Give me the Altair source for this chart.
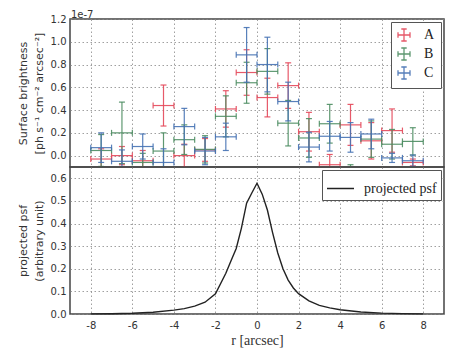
import altair as alt
import pandas as pd

# ---------------- data (surface brightness in units of 1e-7) ----------------
r_centers = [-7.5, -6.5, -5.5, -4.5, -3.5, -2.5, -1.5, -0.5,
             0.5, 1.5, 2.5, 3.5, 4.5, 5.5, 6.5, 7.5]
r_halfwidth = 0.5

series_names = ["A", "B", "C"]
series_colors = ["#e4485a", "#4d8d62", "#4672b4"]

a_vals = [-0.03, 0.00, -0.045, 0.44, 0.00, 0.05, 0.41, 0.73,
          0.51, 0.615, 0.21, -0.08, 0.27, 0.13, 0.22, -0.06]
a_errs = [0.09, 0.08, 0.09, 0.18, 0.10, 0.10, 0.16, 0.20,
          0.17, 0.20, 0.17, 0.09, 0.18, 0.16, 0.19, 0.03]

b_vals = [0.045, 0.20, -0.06, 0.04, 0.14, 0.055, 0.345, 0.64,
          0.74, 0.285, 0.155, 0.28, -0.20, 0.145, 0.10, 0.125]
b_errs = [0.14, 0.27, 0.08, 0.16, 0.13, 0.12, 0.18, 0.18,
          0.20, 0.20, 0.17, 0.17, 0.12, 0.16, 0.13, 0.12]

c_vals = [0.07, -0.05, 0.08, -0.06, 0.255, 0.04, 0.165, 0.885,
          0.80, 0.475, 0.075, 0.17, 0.16, 0.19, -0.02, -0.045]
c_errs = [0.13, 0.10, 0.11, 0.12, 0.16, 0.12, 0.12, 0.24,
          0.24, 0.17, 0.13, 0.13, 0.13, 0.13, 0.04, 0.05]

psf_r = [-8, -7, -6, -5, -4, -3.5, -3, -2.5, -2, -1.5, -1.25, -1, -0.75,
         -0.5, -0.25, 0, 0.25, 0.5, 0.75, 1, 1.25, 1.5, 1.75, 2, 2.5, 3,
         3.5, 4, 5, 6, 7, 8]
psf_val = [0.0005, 0.001, 0.003, 0.008, 0.017, 0.024, 0.035, 0.052, 0.089,
           0.18, 0.235, 0.29, 0.38, 0.49, 0.535, 0.578, 0.53, 0.46, 0.36,
           0.27, 0.20, 0.15, 0.115, 0.09, 0.058, 0.038, 0.027, 0.019, 0.009,
           0.004, 0.0015, 0.0005]
psf_label = "projected psf"

x_ticks = [-8, -6, -4, -2, 0, 2, 4, 6, 8]
top_ticks = [0.0, 0.2, 0.4, 0.6, 0.8, 1.0, 1.2]
bottom_ticks = [0.0, 0.1, 0.2, 0.3, 0.4, 0.5, 0.6]
offset_text = ["1e-7"]

# ---------------- tables ----------------
rows = []
for name, vals, errs in zip(series_names, [a_vals, b_vals, c_vals], [a_errs, b_errs, c_errs]):
    for r, v, e in zip(r_centers, vals, errs):
        rows.append({"series": name, "r": r, "val": v, "lo": v - e, "hi": v + e,
                     "rlo": r - r_halfwidth, "rhi": r + r_halfwidth})
df = pd.DataFrame(rows)
psf_df = pd.DataFrame({"r": psf_r, "psf": psf_val, "label": psf_label})

# ---------------- scales / axes ----------------
xs = alt.Scale(domain=[-9, 9], nice=False, zero=False)
ys_top = alt.Scale(domain=[-0.1, 1.2], nice=False, zero=False)
ys_bot = alt.Scale(domain=[0, 0.65], nice=False, zero=False)

top_xaxis = alt.Axis(values=x_ticks, labels=False, title=None,
                     minExtent=0, maxExtent=0, labelPadding=0)
top_yaxis = alt.Axis(values=top_ticks, format=".1f", labelPadding=4,
                     minExtent=22, maxExtent=22, titlePadding=4,
                     title=["Surface brightness", "[ph s\u207b\u00b9 cm\u207b\u00b2 arcsec\u207b\u00b2]"],
                     titleLineHeight=16)
bot_xaxis = alt.Axis(values=x_ticks, labelExpr="datum.value + ''", labelPadding=6,
                     title="r [arcsec]", titleFont="Liberation Serif", titleFontSize=14,
                     titlePadding=3)
bot_yaxis = alt.Axis(values=bottom_ticks, format=".1f", labelPadding=4,
                     minExtent=22, maxExtent=22, titlePadding=4,
                     title=["projected psf", "(arbitrary unit)"], titleLineHeight=16)

cross_path = ("M-1,0H1M-1,-0.45V0.45M1,-0.45V0.45"
              "M0,-1V1M-0.45,-1H0.45M-0.45,1H0.45")

top_legend = alt.Legend(title=None, orient="top-right", offset=3,
                        symbolType=cross_path, symbolSize=144, symbolStrokeWidth=1.3,
                        symbolFillColor="transparent",
                        labelFont="Liberation Serif", labelFontSize=14, labelColor="#222",
                        labelOffset=13, padding=6, rowPadding=1,
                        strokeColor="#555", fillColor="white", cornerRadius=0)

color_top = alt.Color("series:N", scale=alt.Scale(domain=series_names, range=series_colors),
                      legend=top_legend)


def X(field):
    return alt.X(field, type="quantitative", scale=xs, axis=top_xaxis)


def Y(field):
    return alt.Y(field, type="quantitative", scale=ys_top, axis=top_yaxis)


layers = []
for name in series_names:
    base = alt.Chart(df).transform_filter(alt.datum.series == name)
    sw = 1.2
    layers.append(base.mark_rule(strokeWidth=sw, clip=True, opacity=0.9).encode(
        x=X("r"), y=Y("lo"), y2="hi:Q", color=color_top))
    layers.append(base.mark_rule(strokeWidth=sw, clip=True, opacity=0.9).encode(
        x=X("rlo"), x2="rhi:Q", y=Y("val"), color=color_top))
    for f in ["lo", "hi"]:
        layers.append(base.mark_tick(orient="horizontal", size=6, thickness=sw,
                                     clip=True, opacity=0.9).encode(
            x=X("r"), y=Y(f), color=color_top))
    for f in ["rlo", "rhi"]:
        layers.append(base.mark_tick(orient="vertical", size=6, thickness=sw,
                                     clip=True, opacity=0.9).encode(
            x=X(f), y=Y("val"), color=color_top))

offset_label = alt.Chart(pd.DataFrame({"t": offset_text})).mark_text(
    align="left", baseline="alphabetic", fontSize=10, font="DejaVu Sans", color="#333"
).encode(text="t:N", x=alt.value(1), y=alt.value(-1.5))

top = alt.layer(*layers, offset_label).properties(width=374, height=148)

bot_legend = alt.Legend(title=None, orient="top-right", offset=3,
                        symbolType="stroke", symbolSize=729, symbolStrokeWidth=1.5,
                        labelFont="Liberation Serif", labelFontSize=14, labelColor="#222",
                        labelOffset=9, padding=4,
                        strokeColor="#555", fillColor="white", cornerRadius=0)

bottom = alt.Chart(psf_df).mark_line(strokeWidth=1.4).encode(
    x=alt.X("r:Q", scale=xs, axis=bot_xaxis),
    y=alt.Y("psf:Q", scale=ys_bot, axis=bot_yaxis),
    color=alt.Color("label:N", scale=alt.Scale(range=["#222222"]), legend=bot_legend),
).properties(width=374, height=147)

chart = alt.vconcat(top, bottom, spacing=0, bounds="flush").resolve_scale(
    color="independent"
).properties(
    padding={"left": 8, "top": 0, "right": 5, "bottom": 0}
).configure_view(
    stroke="#444", strokeWidth=1.5
).configure_axis(
    grid=True, gridColor="#888", gridDash=[1.5, 2.5], gridWidth=0.8,
    domain=False, ticks=False,
    labelFont="DejaVu Sans", labelFontSize=10, labelColor="#333",
    titleFont="DejaVu Sans", titleFontSize=11, titleFontWeight="normal", titleColor="#333"
)

chart.save("out.html", embed_options={"renderer": "svg", "actions": False})
